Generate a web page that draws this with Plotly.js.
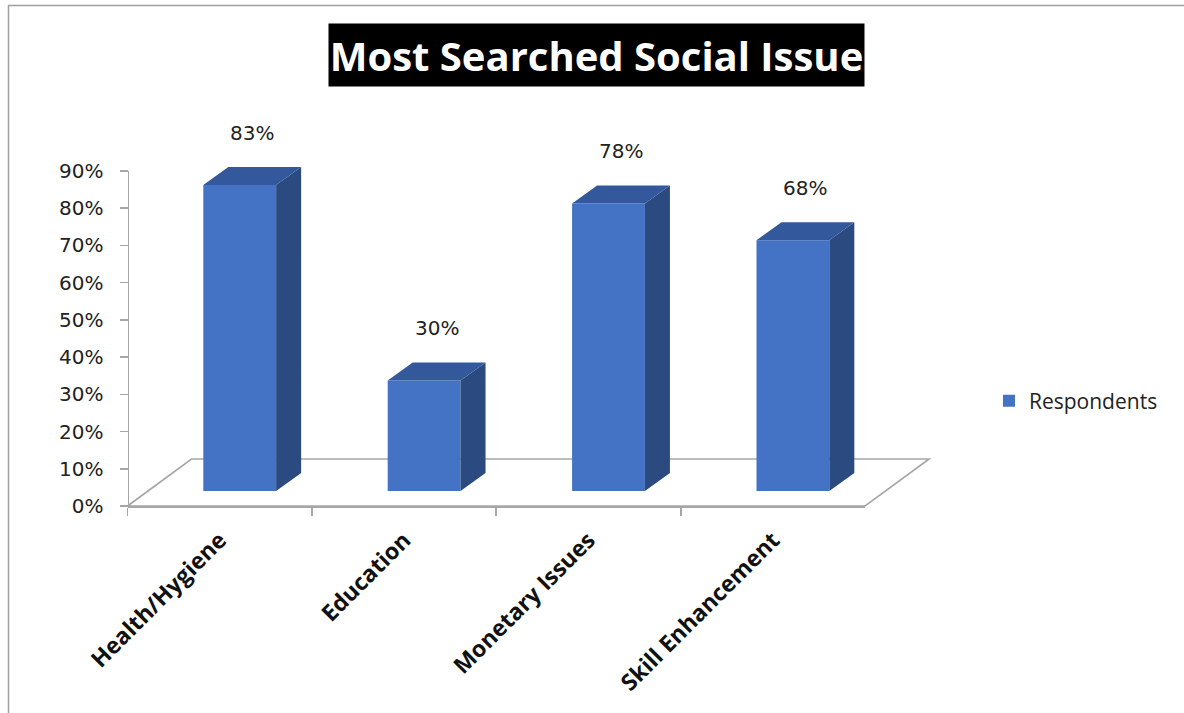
<!DOCTYPE html>
<html><head><meta charset="utf-8">
<script src="https://cdn.plot.ly/plotly-3.0.1.min.js"></script>
<style>html,body{margin:0;padding:0;background:#fff;}#chart{width:1184px;height:713px;}</style>
</head><body><div id="chart"></div>
<script>
// ---- data ----
const categories = ['Health/Hygiene', 'Education', 'Monetary Issues', 'Skill Enhancement'];
const respondents = [0.83, 0.30, 0.78, 0.68];
const seriesName = 'Respondents';
const yTickVals = [0, 0.1, 0.2, 0.3, 0.4, 0.5, 0.6, 0.7, 0.8, 0.9];
const titleText = 'Most Searched Social Issue';

// ---- geometry (pixels) ----
const W = 1184, H = 713;
const axisLeftPx = 127.5, catStepPx = 184.4, axisBottomPx = 506, axisTopPx = 171;
const barBasePx = 491, barScalePx = 368.7;
const plotRightPx = 945, plotTopPx = 95, plotBottomPx = 524;
const px2X = p => p / W, px2Y = p => 1 - p / H;

const xRange = [-0.5, -0.5 + (plotRightPx - axisLeftPx) / catStepPx];
const y3Range = [(barBasePx - plotBottomPx) / barScalePx, (barBasePx - plotTopPx) / barScalePx];

const barOffset = -0.089, barWidth = 0.395;
const depthX = 25 / catStepPx, depthY = 18 / barScalePx;
const floorDX = 64 / catStepPx, floorDY = 47 / barScalePx;
const floorFront = (barBasePx - axisBottomPx) / barScalePx;
const nCat = categories.length;

const frontColor = '#4472c4', sideColor = '#2b4a80', topColor = '#33589c', gridGray = '#a6a6a6';

const xIdx = categories.map((c, i) => i);

// floor outline (drawn below the traces)
const fl = [
  [-0.5, floorFront], [nCat - 0.5, floorFront],
  [nCat - 0.5 + floorDX, floorFront + floorDY], [-0.5 + floorDX, floorFront + floorDY]
];
const floorPath = 'M' + fl.map(p => p[0] + ',' + p[1]).join(' L') + ' Z';

// bars (front faces)
const bars = {
  type: 'bar', x: xIdx, y: respondents, xaxis: 'x', yaxis: 'y3',
  width: barWidth, offset: barOffset, name: seriesName,
  marker: {color: frontColor, line: {width: 0}}, showlegend: true, hoverinfo: 'skip'
};

// side and top faces, computed from the data
const sx = [], sy = [], tx = [], ty = [];
respondents.forEach((v, i) => {
  const x1 = i + barOffset + barWidth, x0 = i + barOffset;
  sx.push(x1, x1, x1 + depthX, x1 + depthX, x1, null);
  sy.push(0, v, v + depthY, depthY, 0, null);
  tx.push(x0, x1, x1 + depthX, x0 + depthX, x0, null);
  ty.push(v, v, v + depthY, v + depthY, v, null);
});
const sides = {x: sx, y: sy, xaxis: 'x', yaxis: 'y3', mode: 'lines', fill: 'toself',
  fillcolor: sideColor, line: {width: 0, color: sideColor}, hoverinfo: 'skip', showlegend: false};
const tops = {x: tx, y: ty, xaxis: 'x', yaxis: 'y3', mode: 'lines', fill: 'toself',
  fillcolor: topColor, line: {width: 0, color: topColor}, hoverinfo: 'skip', showlegend: false};

// invisible trace carrying the visible category / value axes
const axisCarrier = {x: categories, y: respondents, xaxis: 'x2', yaxis: 'y', mode: 'markers',
  marker: {opacity: 0}, hoverinfo: 'skip', showlegend: false};

const labelAnn = respondents.map((v, i) => ({
  xref: 'x', yref: 'y3', x: i + barOffset + barWidth / 2 + depthX / 2, y: v + depthY,
  text: Math.round(v * 100) + '%', showarrow: false, xanchor: 'center', yanchor: 'bottom', yshift: 20,
  font: {family: 'DejaVu Sans', size: 20, color: '#222'}
}));

const layout = {
  width: W, height: H, margin: {l: 0, r: 0, t: 0, b: 0, autoexpand: false},
  paper_bgcolor: '#ffffff', plot_bgcolor: 'rgba(0,0,0,0)',
  showlegend: true,
  legend: {x: px2X(989), y: px2Y(401), xanchor: 'left', yanchor: 'middle',
    font: {family: 'Open Sans', size: 21, color: '#222'}, bgcolor: 'rgba(0,0,0,0)'},
  xaxis: {domain: [px2X(axisLeftPx), px2X(plotRightPx)], range: xRange, anchor: 'y3',
    visible: false, fixedrange: true},
  yaxis3: {domain: [px2Y(plotBottomPx), px2Y(plotTopPx)], range: y3Range, anchor: 'x',
    visible: false, fixedrange: true},
  xaxis2: {type: 'category', categoryorder: 'array', categoryarray: categories,
    domain: [px2X(axisLeftPx), px2X(axisLeftPx + nCat * catStepPx)], range: [-0.5, nCat - 0.5],
    anchor: 'free', position: px2Y(axisBottomPx), showline: true, linecolor: gridGray, linewidth: 1.6,
    ticks: 'outside', tickson: 'boundaries', ticklen: 8, tickcolor: gridGray, tickwidth: 1.6,
    tickangle: -45, ticklabelstandoff: 10,
    tickfont: {family: 'Open Sans', size: 23, color: '#111', weight: 'bold'},
    showgrid: false, zeroline: false, fixedrange: true},
  yaxis: {domain: [px2Y(axisBottomPx), px2Y(axisTopPx)], range: [0, 0.9], anchor: 'free',
    position: px2X(axisLeftPx), showline: true, linecolor: gridGray, linewidth: 1.6,
    ticks: 'outside', ticklen: 8, tickcolor: gridGray, tickwidth: 1.6, ticklabelstandoff: 12,
    tickmode: 'array', tickvals: yTickVals, tickformat: '.0%',
    tickfont: {family: 'DejaVu Sans', size: 20, color: '#222'},
    showgrid: false, zeroline: false, fixedrange: true},
  annotations: [{
    xref: 'paper', yref: 'paper', x: px2X(596.5), y: px2Y(55), xanchor: 'center', yanchor: 'middle',
    text: titleText, showarrow: false, bgcolor: '#000000', width: 535, height: 62, borderpad: 0,
    font: {family: 'Open Sans', size: 40, color: '#ffffff', weight: 'bold'}
  }].concat(labelAnn),
  shapes: [
    {type: 'rect', xref: 'paper', yref: 'paper', x0: px2X(8.5), x1: 1.02, y0: -0.02, y1: px2Y(5.5),
      line: {color: '#a0a0a0', width: 1.5}, fillcolor: 'rgba(0,0,0,0)', layer: 'below'},
    {type: 'path', xref: 'x', yref: 'y3', path: floorPath,
      line: {color: gridGray, width: 1.6}, fillcolor: 'rgba(0,0,0,0)', layer: 'below'}
  ]
};

Plotly.newPlot('chart', [bars, sides, tops, axisCarrier], layout, {displayModeBar: false, staticPlot: true});
</script></body></html>
